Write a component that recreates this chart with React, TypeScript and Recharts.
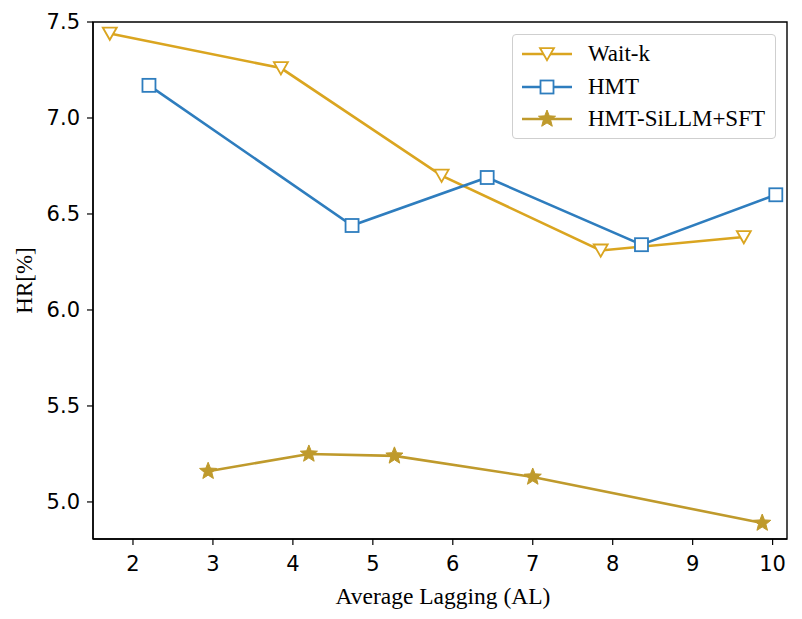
import {
  LineChart,
  Line,
  XAxis,
  YAxis,
  Legend,
  ReferenceArea,
} from "recharts";

// values
const waitK = [
  { x: 1.71, y: 7.44 },
  { x: 3.85, y: 7.26 },
  { x: 5.86, y: 6.7 },
  { x: 7.85, y: 6.31 },
  { x: 9.64, y: 6.38 },
];
const hmt = [
  { x: 2.2, y: 7.17 },
  { x: 4.74, y: 6.44 },
  { x: 6.43, y: 6.69 },
  { x: 8.36, y: 6.34 },
  { x: 10.04, y: 6.6 },
];
const hmtSillm = [
  { x: 2.94, y: 5.16 },
  { x: 4.2, y: 5.25 },
  { x: 5.27, y: 5.24 },
  { x: 7.0, y: 5.13 },
  { x: 9.87, y: 4.89 },
];
const xTicks = [2, 3, 4, 5, 6, 7, 8, 9, 10];
const yTicks = [5.0, 5.5, 6.0, 6.5, 7.0, 7.5];

const GOLD = "#DAA520";
const BLUE = "#2E7DBE";
const STAR = "#BF9A2C";

const X_DOMAIN: [number, number] = [1.5, 10.18];
const Y_DOMAIN: [number, number] = [4.807, 7.5];

const tickFont = { fontFamily: "DejaVu Sans", fontSize: 21, fill: "#000" };
const serif = "'Liberation Serif', 'Times New Roman', serif";

function TriDown({ cx, cy, color }: any) {
  const s = 7;
  return (
    <path
      d={`M${cx - s},${cy - s * 0.85} L${cx + s},${cy - s * 0.85} L${cx},${cy + s * 0.9} Z`}
      fill="#fff"
      stroke={color}
      strokeWidth={1.8}
    />
  );
}

function Square({ cx, cy, color }: any) {
  const s = 6.5;
  return (
    <rect
      x={cx - s}
      y={cy - s}
      width={s * 2}
      height={s * 2}
      fill="#fff"
      stroke={color}
      strokeWidth={1.8}
    />
  );
}

function Star({ cx, cy, color }: any) {
  const outer = 9;
  const inner = 3.9;
  const pts: string[] = [];
  for (let i = 0; i < 10; i++) {
    const r = i % 2 === 0 ? outer : inner;
    const a = -Math.PI / 2 + (i * Math.PI) / 5;
    pts.push(`${cx + r * Math.cos(a)},${cy + r * Math.sin(a)}`);
  }
  return <polygon points={pts.join(" ")} fill={color} stroke={color} strokeWidth={1} />;
}

const series = [
  { name: "Wait-k", data: waitK, color: GOLD, Marker: TriDown },
  { name: "HMT", data: hmt, color: BLUE, Marker: Square },
  { name: "HMT-SiLLM+SFT", data: hmtSillm, color: STAR, Marker: Star },
];

function LegendBox() {
  return (
    <div
      style={{
        border: "1px solid #cfcfcf",
        borderRadius: 4,
        background: "rgba(255,255,255,0.8)",
        padding: "3px 8px 4px 8px",
        boxSizing: "border-box",
        width: 264,
        height: 105,
      }}
    >
      {series.map((s) => (
        <div
          key={s.name}
          style={{ display: "flex", alignItems: "center", height: 32.5 }}
        >
          <svg width={52} height={24} style={{ flex: "none" }}>
            <line x1={1} y1={12} x2={51} y2={12} stroke={s.color} strokeWidth={2.6} />
            <s.Marker cx={26} cy={12} color={s.color} />
          </svg>
          <span
            style={{
              fontFamily: serif,
              fontSize: 23,
              color: "#000",
              marginLeft: 15,
              lineHeight: "24px",
            }}
          >
            {s.name}
          </span>
        </div>
      ))}
    </div>
  );
}

export default function App() {
  return (
    <div style={{ position: "absolute", left: 0, top: 0, background: "#fff" }}>
      <LineChart
        width={802}
        height={619}
        margin={{ top: 22, right: 15, left: 0, bottom: 0 }}
      >
        <XAxis
          dataKey="x"
          type="number"
          domain={X_DOMAIN}
          ticks={xTicks}
          allowDataOverflow
          height={80}
          tick={tickFont}
          tickSize={6}
          tickMargin={11}
          stroke="#000"
          axisLine={{ stroke: "#000", strokeWidth: 1.4 }}
          tickLine={{ stroke: "#000", strokeWidth: 1.2 }}
          label={{
            content: ({ viewBox }: any) => (
              <text
                x={viewBox.x + viewBox.width / 2 + 3}
                y={viewBox.y + viewBox.height - 15}
                textAnchor="middle"
                fontFamily={serif}
                fontSize={23.5}
                fill="#000"
              >
                Average Lagging (AL)
              </text>
            ),
          }}
        />
        <YAxis
          type="number"
          domain={Y_DOMAIN}
          ticks={yTicks}
          allowDataOverflow
          width={93}
          tick={tickFont}
          tickFormatter={(v: number) => v.toFixed(1)}
          tickSize={6}
          tickMargin={7}
          axisLine={{ stroke: "#000", strokeWidth: 1.4 }}
          tickLine={{ stroke: "#000", strokeWidth: 1.2 }}
          label={{
            content: ({ viewBox }: any) => {
              const cx = viewBox.x + 24;
              const cy = viewBox.y + viewBox.height / 2;
              return (
                <text
                  x={cx}
                  y={cy}
                  transform={`rotate(-90, ${cx}, ${cy})`}
                  textAnchor="middle"
                  dominantBaseline="central"
                  fontFamily={serif}
                  fontSize={23}
                  fill="#000"
                >
                  HR[%]
                </text>
              );
            },
          }}
        />
        {/* frame on top and right, like matplotlib's spines */}
        <ReferenceArea
          x1={X_DOMAIN[0]}
          x2={X_DOMAIN[1]}
          y1={Y_DOMAIN[0]}
          y2={Y_DOMAIN[1]}
          fill="none"
          fillOpacity={0}
          stroke="#000"
          strokeWidth={1.4}
          ifOverflow="visible"
        />
        <Legend
          layout="vertical"
          align="center"
          verticalAlign="middle"
          wrapperStyle={{ left: 512, top: 34, width: 264, height: 105 }}
          content={() => <LegendBox />}
        />
        {series.map((s) => (
          <Line
            key={s.name}
            data={s.data}
            dataKey="y"
            name={s.name}
            stroke={s.color}
            strokeWidth={2.6}
            isAnimationActive={false}
            dot={(p: any) => (
              <s.Marker key={`${s.name}-${p.index}`} cx={p.cx} cy={p.cy} color={s.color} />
            )}
            activeDot={false}
          />
        ))}
      </LineChart>
    </div>
  );
}
